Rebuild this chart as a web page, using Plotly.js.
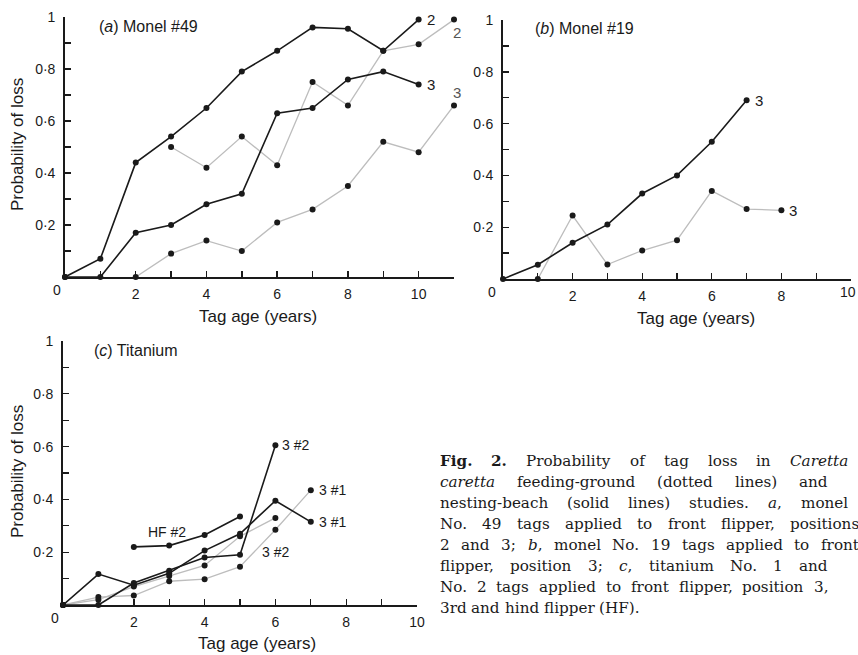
<!DOCTYPE html>
<html>
<head>
<meta charset="utf-8">
<script src="https://cdn.plot.ly/plotly-3.0.1.min.js"></script>
<style>html,body{margin:0;padding:0;background:#fff;}#chart{width:858px;height:655px;}</style>
</head>
<body>
<div id="chart"></div>
<script>
// ---------- DATA ----------
// Panel (a) Monel #49
const aSolid2X = [0,1,2,3,4,5,6,7,8,9,10];
const aSolid2Y = [0,0.07,0.44,0.54,0.65,0.79,0.87,0.96,0.955,0.87,0.99];
const aSolid3X = [0,1,2,3,4,5,6,7,8,9,10];
const aSolid3Y = [0,0,0.17,0.20,0.28,0.32,0.63,0.65,0.76,0.79,0.74];
const aDot2X = [3,4,5,6,7,8,9,10,11];
const aDot2Y = [0.50,0.42,0.54,0.43,0.75,0.66,0.87,0.895,0.99];
const aDot3X = [2,3,4,5,6,7,8,9,10,11];
const aDot3Y = [0,0.09,0.14,0.10,0.21,0.26,0.35,0.52,0.48,0.66];
// Panel (b) Monel #19
const bSolidX = [0,1,2,3,4,5,6,7];
const bSolidY = [0,0.055,0.14,0.21,0.33,0.40,0.53,0.69];
const bDotX = [1,2,3,4,5,6,7,8];
const bDotY = [0,0.245,0.056,0.11,0.15,0.34,0.27,0.265];
// Panel (c) Titanium
const cSol31X = [0,1,2,3,4,5,6,7];
const cSol31Y = [0,0.117,0.075,0.12,0.206,0.27,0.395,0.315];
const cSol32X = [0,1,2,3,4,5,6];
const cSol32Y = [0,0,0.083,0.13,0.18,0.19,0.605];
const cHF2X = [2,3,4,5];
const cHF2Y = [0.22,0.225,0.265,0.335];
const cDot31X = [0,1,2,3,4,5,6,7];
const cDot31Y = [0,0.03,0.036,0.09,0.098,0.145,0.285,0.435];
const cDot32X = [0,1,2,3,4,5,6];
const cDot32Y = [0,0.02,0.07,0.11,0.15,0.26,0.33];

const yTickVals = [0,0.1,0.2,0.3,0.4,0.5,0.6,0.7,0.8,0.9,1];
const yTickText = ['','','0·2','','0·4','','0·6','','0·8','','1'];
const xTickValsA = [0,1,2,3,4,5,6,7,8,9,10,11];
const xTickTextA = ['','','2','','4','','6','','8','','10',''];
const xTickValsBC = [0,1,2,3,4,5,6,7,8,9,10];
const xTickTextBC = ['','','2','','4','','6','','8','','10'];

const captionLines = [
  '<b>Fig.</b> <b>2.</b> Probability of tag loss in <i>Caretta</i>',
  '<i>caretta</i> feeding-ground (dotted lines) and',
  'nesting-beach (solid lines) studies. <i>a</i>, monel',
  'No. 49 tags applied to front flipper, positions',
  '2 and 3; <i>b</i>, monel No. 19 tags applied to front',
  'flipper, position 3; <i>c</i>, titanium No. 1 and',
  'No. 2 tags applied to front flipper, position 3,',
  '3rd and hind flipper (HF).'
];

// ---------- STYLE ----------
const W = 858, H = 655;
const px = x => x / W;
const py = y => 1 - y / H;
const INK = '#1a1a1a';
const GREY = '#bdbdbd';
const SANS = 'Liberation Sans, Arial, sans-serif';
const SERIF = 'DejaVu Serif';
const CAP_SIZE = 15.2;

function solid(x, y, xa, ya) {
  return {x, y, xaxis: xa, yaxis: ya, type: 'scatter', mode: 'lines+markers', cliponaxis: false,
    line: {color: INK, width: 1.6}, marker: {color: INK, size: 6}, hoverinfo: 'skip', showlegend: false};
}
function dotted(x, y, xa, ya) {
  return {x, y, xaxis: xa, yaxis: ya, type: 'scatter', mode: 'lines+markers', cliponaxis: false,
    line: {color: GREY, width: 1.3}, marker: {color: INK, size: 6}, hoverinfo: 'skip', showlegend: false};
}

const traces = [
  dotted(aDot2X, aDot2Y, 'x', 'y'),
  dotted(aDot3X, aDot3Y, 'x', 'y'),
  solid(aSolid2X, aSolid2Y, 'x', 'y'),
  solid(aSolid3X, aSolid3Y, 'x', 'y'),
  dotted(bDotX, bDotY, 'x2', 'y2'),
  solid(bSolidX, bSolidY, 'x2', 'y2'),
  dotted(cDot31X, cDot31Y, 'x3', 'y3'),
  dotted(cDot32X, cDot32Y, 'x3', 'y3'),
  solid(cSol31X, cSol31Y, 'x3', 'y3'),
  solid(cSol32X, cSol32Y, 'x3', 'y3'),
  solid(cHF2X, cHF2Y, 'x3', 'y3')
];

function xAxis(domain, range, vals, text, anchor) {
  return {domain, range, anchor, tickmode: 'array', tickvals: vals, ticktext: text,
    showline: true, linecolor: INK, linewidth: 1.8, ticks: 'inside', ticklen: 6, tickwidth: 1.4, tickcolor: INK,
    showgrid: false, zeroline: false, fixedrange: true, ticklabelstandoff: 3,
    tickfont: {family: SANS, size: 14, color: INK}};
}
function yAxis(domain, anchor) {
  return {domain, range: [0, 1], anchor, tickmode: 'array', tickvals: yTickVals, ticktext: yTickText,
    showline: true, linecolor: INK, linewidth: 1.8, ticks: 'inside', ticklen: 6, tickwidth: 1.4, tickcolor: INK,
    showgrid: false, zeroline: false, fixedrange: true, ticklabelstandoff: 5,
    tickfont: {family: SANS, size: 14, color: INK}};
}

const ann = [];
function txt(x, y, text, opts) {
  ann.push(Object.assign({x: px(x), y: py(y), xref: 'paper', yref: 'paper', text, showarrow: false,
    xanchor: 'center', yanchor: 'middle', font: {family: SANS, size: 16, color: INK}}, opts || {}));
}
function lab(xr, yr, x, y, text, opts) {
  ann.push(Object.assign({x, y, xref: xr, yref: yr, text, showarrow: false,
    xanchor: 'left', yanchor: 'middle', font: {family: SANS, size: 15, color: INK}}, opts || {}));
}

// panel titles
txt(97, 27, '(<i>a</i>) Monel #49', {xanchor: 'left'});
txt(533, 28, '(<i>b</i>) Monel #19', {xanchor: 'left'});
txt(92, 350, '(<i>c</i>) Titanium', {xanchor: 'left'});
// axis titles
txt(258, 317, 'Tag age (years)', {font: {family: SANS, size: 17, color: INK}});
txt(696, 318, 'Tag age (years)', {font: {family: SANS, size: 17, color: INK}});
txt(257, 643, 'Tag age (years)', {font: {family: SANS, size: 17, color: INK}});
txt(17, 145, 'Probability of loss', {textangle: -90, font: {family: SANS, size: 17, color: INK}});
txt(17, 472, 'Probability of loss', {textangle: -90, font: {family: SANS, size: 17, color: INK}});
// corner zeros and clipped end label
const tickF = {family: SANS, size: 14, color: INK};
lab('x', 'y', 0, 0, '0', {xanchor: 'center', xshift: -8, yshift: -13, font: tickF});
lab('x2', 'y2', 0, 0, '0', {xanchor: 'center', xshift: -11, yshift: -13, font: tickF});
lab('x3', 'y3', 0, 0, '0', {xanchor: 'center', xshift: -8, yshift: -13, font: tickF});
lab('x2', 'y2', 10, 0, '10', {xanchor: 'right', xshift: 7, yshift: -13, font: tickF});
// series labels
lab('x', 'y', 10, 0.99, '2', {xshift: 6});
lab('x', 'y', 11, 0.99, '2', {xanchor: 'center', xshift: 3, yshift: -13, font: {family: SANS, size: 15, color: '#555'}});
lab('x', 'y', 10, 0.74, '3', {xshift: 6});
lab('x', 'y', 11, 0.66, '3', {xanchor: 'center', xshift: 3, yshift: 13, font: {family: SANS, size: 15, color: '#555'}});
lab('x2', 'y2', 7, 0.69, '3', {xshift: 6});
lab('x2', 'y2', 8, 0.265, '3', {xshift: 6});
lab('x3', 'y3', 6, 0.605, '3 #2', {xshift: 5, font: tickF});
lab('x3', 'y3', 7, 0.435, '3 #1', {xshift: 6, font: tickF});
lab('x3', 'y3', 7, 0.315, '3 #1', {xshift: 6, font: tickF});
lab('x3', 'y3', 6.0, 0.2, '3 #2', {xanchor: 'center', font: tickF});
lab('x3', 'y3', 2.94, 0.275, 'HF #2', {xanchor: 'center', font: tickF});

// caption: justified word by word, widths measured with a canvas
const capY = [461, 482, 503, 524, 545, 566, 587, 608];
const capRight = [846, 826, 846, 857, 857, 826, 826, null];
const ctx = document.createElement('canvas').getContext('2d');
function measureWord(w) {
  const re = /<(b|i)>(.*?)<\/\1>|([^<]+)/g;
  let m, total = 0;
  while ((m = re.exec(w)) !== null) {
    let style = 'normal', weight = 'normal', s;
    if (m[1]) { s = m[2]; if (m[1] === 'b') weight = 'bold'; else style = 'italic'; } else s = m[3];
    ctx.font = `${style} ${weight} ${CAP_SIZE}px "${SERIF}"`;
    total += ctx.measureText(s).width;
  }
  return total;
}
ctx.font = `${CAP_SIZE}px "${SERIF}"`;
const spaceW = ctx.measureText(' ').width;
captionLines.forEach((line, i) => {
  const words = line.split(/\s+/).filter(Boolean);
  const widths = words.map(measureWord);
  const sum = widths.reduce((a, b) => a + b, 0);
  let gap = spaceW;
  if (capRight[i] && words.length > 1) gap = Math.max(spaceW, (capRight[i] - 438 - sum) / (words.length - 1));
  let x = 438;
  words.forEach((w, j) => {
    txt(x, capY[i], w, {xanchor: 'left', font: {family: SERIF, size: CAP_SIZE, color: INK}});
    x += widths[j] + gap;
  });
});

const layout = {
  width: W, height: H, margin: {l: 0, r: 0, t: 0, b: 0}, paper_bgcolor: '#fff', plot_bgcolor: 'rgba(0,0,0,0)',
  showlegend: false,
  xaxis: xAxis([px(65), px(454)], [0, 11], xTickValsA, xTickTextA, 'y'),
  yaxis: yAxis([py(277), py(17)], 'x'),
  xaxis2: xAxis([px(503), px(851)], [0, 10], xTickValsBC, xTickTextBC, 'y2'),
  yaxis2: yAxis([py(279), py(20)], 'x2'),
  xaxis3: xAxis([px(63), px(417)], [0, 10], xTickValsBC, xTickTextBC, 'y3'),
  yaxis3: yAxis([py(605), py(341)], 'x3'),
  annotations: ann
};

Plotly.newPlot('chart', traces, layout, {staticPlot: true, displayModeBar: false});
</script>
</body>
</html>
